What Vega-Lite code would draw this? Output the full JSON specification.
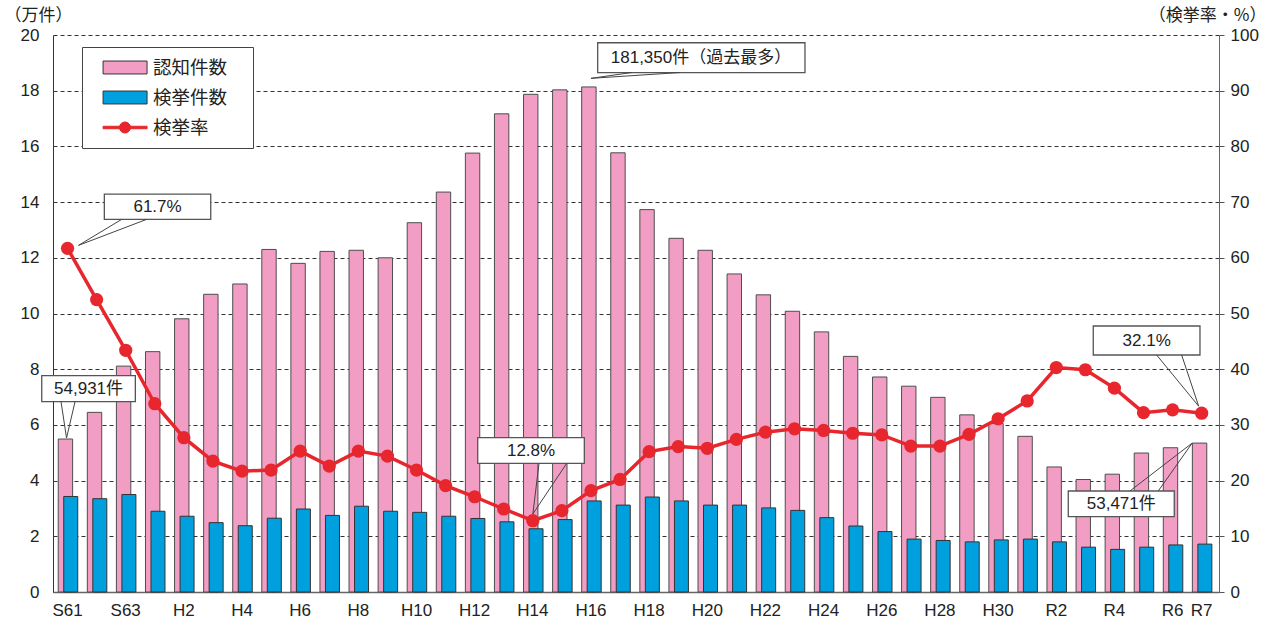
{
  "$schema": "https://vega.github.io/schema/vega-lite/v6.json",
  "width": 1166,
  "height": 557,
  "autosize": "none",
  "padding": {"left": 53, "top": 35, "right": 57, "bottom": 33},
  "background": "white",
  "config": {
    "view": {"stroke": null},
    "font": "Liberation Sans Narrow, Noto Sans Condensed, Liberation Sans, Noto Sans CJK JP"
  },
  "data": {
    "values": [
      {"年": "S61", "認知件数": 5.4931, "検挙件数": 3.43, "検挙率": 61.7},
      {"年": "S62", "認知件数": 6.45, "検挙件数": 3.35, "検挙率": 52.5},
      {"年": "S63", "認知件数": 8.11, "検挙件数": 3.50, "検挙率": 43.4},
      {"年": "H1", "認知件数": 8.63, "検挙件数": 2.90, "検挙率": 33.8},
      {"年": "H2", "認知件数": 9.81, "検挙件数": 2.72, "検挙率": 27.7},
      {"年": "H3", "認知件数": 10.69, "検挙件数": 2.49, "検挙率": 23.5},
      {"年": "H4", "認知件数": 11.06, "検挙件数": 2.38, "検挙率": 21.7},
      {"年": "H5", "認知件数": 12.30, "検挙件数": 2.65, "検挙率": 21.9},
      {"年": "H6", "認知件数": 11.80, "検挙件数": 2.98, "検挙率": 25.3},
      {"年": "H7", "認知件数": 12.23, "検挙件数": 2.75, "検挙率": 22.6},
      {"年": "H8", "認知件数": 12.27, "検挙件数": 3.08, "検挙率": 25.3},
      {"年": "H9", "認知件数": 12.00, "検挙件数": 2.90, "検挙率": 24.4},
      {"年": "H10", "認知件数": 13.26, "検挙件数": 2.86, "検挙率": 21.9},
      {"年": "H11", "認知件数": 14.36, "検挙件数": 2.72, "検挙率": 19.1},
      {"年": "H12", "認知件数": 15.76, "検挙件数": 2.64, "検挙率": 17.1},
      {"年": "H13", "認知件数": 17.17, "検挙件数": 2.52, "検挙率": 14.9},
      {"年": "H14", "認知件数": 17.87, "検挙件数": 2.27, "検挙率": 12.8},
      {"年": "H15", "認知件数": 18.03, "検挙件数": 2.60, "検挙率": 14.6},
      {"年": "H16", "認知件数": 18.135, "検挙件数": 3.27, "検挙率": 18.2},
      {"年": "H17", "認知件数": 15.77, "検挙件数": 3.12, "検挙率": 20.2},
      {"年": "H18", "認知件数": 13.73, "検挙件数": 3.41, "検挙率": 25.2},
      {"年": "H19", "認知件数": 12.70, "検挙件数": 3.27, "検挙率": 26.1},
      {"年": "H20", "認知件数": 12.27, "検挙件数": 3.12, "検挙率": 25.8},
      {"年": "H21", "認知件数": 11.42, "検挙件数": 3.12, "検挙率": 27.4},
      {"年": "H22", "認知件数": 10.67, "検挙件数": 3.02, "検挙率": 28.7},
      {"年": "H23", "認知件数": 10.08, "検挙件数": 2.93, "検挙率": 29.3},
      {"年": "H24", "認知件数": 9.34, "検挙件数": 2.67, "検挙率": 29.0},
      {"年": "H25", "認知件数": 8.46, "検挙件数": 2.37, "検挙率": 28.5},
      {"年": "H26", "認知件数": 7.72, "検挙件数": 2.17, "検挙率": 28.2},
      {"年": "H27", "認知件数": 7.39, "検挙件数": 1.90, "検挙率": 26.2},
      {"年": "H28", "認知件数": 6.99, "検挙件数": 1.85, "検挙率": 26.2},
      {"年": "H29", "認知件数": 6.36, "検挙件数": 1.80, "検挙率": 28.3},
      {"年": "H30", "認知件数": 6.05, "検挙件数": 1.87, "検挙率": 31.1},
      {"年": "R1", "認知件数": 5.59, "検挙件数": 1.90, "検挙率": 34.3},
      {"年": "R2", "認知件数": 4.49, "検挙件数": 1.80, "検挙率": 40.3},
      {"年": "R3", "認知件数": 4.04, "検挙件数": 1.61, "検挙率": 39.9},
      {"年": "R4", "認知件数": 4.23, "検挙件数": 1.53, "検挙率": 36.6},
      {"年": "R5", "認知件数": 4.99, "検挙件数": 1.61, "検挙率": 32.2},
      {"年": "R6", "認知件数": 5.18, "検挙件数": 1.69, "検挙率": 32.7},
      {"年": "R7", "認知件数": 5.3471, "検挙件数": 1.72, "検挙率": 32.1}
    ]
  },
  "layer": [
    {
      "layer": [
        {
          "mark": {"type": "bar", "width": 14.4, "xOffset": -2.1, "stroke": "#4d4d4d", "strokeWidth": 1, "fill": "#F29EC4"},
          "encoding": {
            "x": {
              "field": "年", "type": "ordinal", "sort": null,
              "scale": {
                "domain": ["S61","S62","S63","H1","H2","H3","H4","H5","H6","H7","H8","H9","H10","H11","H12","H13","H14","H15","H16","H17","H18","H19","H20","H21","H22","H23","H24","H25","H26","H27","H28","H29","H30","R1","R2","R3","R4","R5","R6","R7"],
                "paddingInner": 0, "paddingOuter": 0.048, "align": 0
              },
              "axis": {
                "title": null, "grid": false, "ticks": false, "labelAngle": 0,
                "labelExpr": "indexof(['S61','S63','H2','H4','H6','H8','H10','H12','H14','H16','H18','H20','H22','H24','H26','H28','H30','R2','R4','R6','R7'], datum.value) >= 0 ? datum.value : ''",
                "domainColor": "#666", "domainWidth": 1.5,
                "labelPadding": 10, "labelFontSize": 17, "labelColor": "#222",
                "labelFont": "Liberation Sans Narrow, Noto Sans Condensed, Liberation Sans"
              }
            },
            "y": {
              "field": "認知件数", "type": "quantitative",
              "scale": {"domain": [0, 20], "nice": false, "zero": true},
              "axis": {
                "values": [0,2,4,6,8,10,12,14,16,18,20],
                "grid": true, "gridDash": [4, 3], "gridColor": "#333", "gridWidth": 1,
                "domainColor": "#333", "ticks": false, "labelPadding": 14,
                "labelFontSize": 17, "labelColor": "#222",
                "labelFont": "Liberation Sans Narrow, Noto Sans Condensed, Liberation Sans",
                "title": "（万件）", "titleAngle": 0, "titleAlign": "left", "titleBaseline": "middle",
                "titleX": -49, "titleY": -20, "titleFont": "Noto Sans CJK JP", "titleFontSize": 17,
                "titleFontWeight": "normal", "titleColor": "#222"
              }
            }
          }
        },
        {
          "mark": {"type": "bar", "width": 14, "xOffset": 3.2, "stroke": "#333", "strokeWidth": 1, "fill": "#00A0DF"},
          "encoding": {
            "x": {"field": "年", "type": "ordinal", "sort": null},
            "y": {"field": "検挙件数", "type": "quantitative"}
          }
        },
        {
          "mark": {"type": "point", "filled": true, "opacity": 0},
          "encoding": {
            "x": {"field": "年", "type": "ordinal", "sort": null},
            "y": {"field": "認知件数", "type": "quantitative"},
            "color": {
              "datum": "認知件数",
              "scale": {"domain": ["認知件数", "検挙件数", "検挙率"], "range": ["#F29EC4", "#00A0DF", "#E8262D"]},
              "legend": {
                "title": "\u3000", "titleOrient": "right", "titlePadding": 15, "titleFontSize": 4,
                "orient": "none", "legendX": 29, "legendY": 12,
                "padding": 10.5, "rowPadding": 10, "symbolSize": 361, "symbolOpacity": 1, "symbolStrokeWidth": 1,
                "labelOffset": 40.5, "labelFont": "Noto Sans CJK JP", "labelFontSize": 18.5, "labelColor": "#222",
                "strokeColor": "#444", "fillColor": "white"
              }
            },
            "shape": {
              "datum": "認知件数",
              "scale": {"domain": ["認知件数", "検挙件数", "検挙率"], "range": [
                "M0.06,-0.68L4.69,-0.68L4.69,0.68L0.06,0.68Z",
                "M0.06,-0.68L4.69,-0.68L4.69,0.68L0.06,0.68Z",
                "M0.06,-0.13L4.69,-0.13L4.69,0.13L0.06,0.13ZM1.79,0a0.58,0.58 0 1,1 1.16,0a0.58,0.58 0 1,1 -1.16,0Z"
              ]}
            },
            "stroke": {
              "datum": "認知件数",
              "scale": {"domain": ["認知件数", "検挙件数", "検挙率"], "range": ["#333333", "#333333", "#E8262D"]}
            }
          }
        },
        {
          "data": {"values": [{"年": "S61", "認知件数": 5.4931, "label": "54,931件"}]},
          "encoding": {
            "x": {"field": "年", "type": "ordinal"},
            "y": {"field": "認知件数", "type": "quantitative"}
          },
          "layer": [
            {"mark": {"type": "point", "shape": "M-25.8,-63.3H67.8V-37.3H-25.8Z", "size": 4, "filled": true, "fill": "white", "stroke": "#555", "strokeWidth": 1.3, "opacity": 1}},
            {"mark": {"type": "point", "shape": "M-6.5,-37.3L-1,-1L7.5,-37.3", "size": 4, "filled": false, "stroke": "#444", "strokeWidth": 1, "opacity": 1}},
            {"mark": {"type": "text", "dx": 21, "dy": -50.3, "align": "center", "baseline": "middle", "fontSize": 17, "color": "#222", "font": "Liberation Sans Narrow, Noto Sans Condensed, Liberation Sans, Noto Sans CJK JP"}, "encoding": {"text": {"field": "label"}}}
          ]
        },
        {
          "data": {"values": [{"年": "H16", "認知件数": 18.135, "label": "181,350件（過去最多）"}]},
          "encoding": {
            "x": {"field": "年", "type": "ordinal"},
            "y": {"field": "認知件数", "type": "quantitative"}
          },
          "layer": [
            {"mark": {"type": "point", "shape": "M6.7,-44.2H214V-14.4H6.7Z", "size": 4, "filled": true, "fill": "white", "stroke": "#555", "strokeWidth": 1.3, "opacity": 1}},
            {"mark": {"type": "point", "shape": "M40.7,-14.4L0,-8.6L89,-14.4", "size": 4, "filled": false, "stroke": "#444", "strokeWidth": 1, "opacity": 1}},
            {"mark": {"type": "text", "dx": 110, "dy": -29.3, "align": "center", "baseline": "middle", "fontSize": 17, "color": "#222", "font": "Liberation Sans Narrow, Noto Sans Condensed, Liberation Sans, Noto Sans CJK JP"}, "encoding": {"text": {"field": "label"}}}
          ]
        },
        {
          "data": {"values": [{"年": "R7", "認知件数": 5.3471, "label": "53,471件"}]},
          "encoding": {
            "x": {"field": "年", "type": "ordinal"},
            "y": {"field": "認知件数", "type": "quantitative"}
          },
          "layer": [
            {"mark": {"type": "point", "shape": "M-133.4,47.9H-27.4V73.6H-133.4Z", "size": 4, "filled": true, "fill": "white", "stroke": "#555", "strokeWidth": 1.3, "opacity": 1}},
            {"mark": {"type": "point", "shape": "M-71.7,47.9L-9.5,0L-43.4,47.9", "size": 4, "filled": false, "stroke": "#444", "strokeWidth": 1, "opacity": 1}},
            {"mark": {"type": "text", "dx": -80.4, "dy": 60.7, "align": "center", "baseline": "middle", "fontSize": 17, "color": "#222", "font": "Liberation Sans Narrow, Noto Sans Condensed, Liberation Sans, Noto Sans CJK JP"}, "encoding": {"text": {"field": "label"}}}
          ]
        }
      ]
    },
    {
      "layer": [
        {
          "mark": {"type": "line", "color": "#E8262D", "strokeWidth": 3.5},
          "encoding": {
            "x": {"field": "年", "type": "ordinal", "sort": null},
            "y": {
              "field": "検挙率", "type": "quantitative",
              "scale": {"domain": [0, 100], "nice": false, "zero": true},
              "axis": {
                "orient": "right", "values": [0,10,20,30,40,50,60,70,80,90,100],
                "grid": false, "ticks": true, "tickSize": 5, "tickColor": "#555",
                "domainColor": "#666", "labelPadding": 6,
                "labelFontSize": 17, "labelColor": "#222",
                "labelFont": "Liberation Sans Narrow, Noto Sans Condensed, Liberation Sans",
                "title": "（検挙率・%）", "titleAngle": 0, "titleAlign": "right", "titleBaseline": "middle",
                "titleX": 47, "titleY": -20, "titleFont": "Noto Sans CJK JP", "titleFontSize": 17,
                "titleFontWeight": "normal", "titleColor": "#222"
              }
            }
          }
        },
        {
          "mark": {"type": "point", "shape": "circle", "filled": true, "size": 175, "color": "#E8262D", "opacity": 1},
          "encoding": {
            "x": {"field": "年", "type": "ordinal", "sort": null},
            "y": {"field": "検挙率", "type": "quantitative"}
          }
        },
        {
          "data": {"values": [{"年": "S61", "検挙率": 61.7, "label": "61.7%"}]},
          "encoding": {
            "x": {"field": "年", "type": "ordinal"},
            "y": {"field": "検挙率", "type": "quantitative"}
          },
          "layer": [
            {"mark": {"type": "point", "shape": "M36.8,-54.3H143.2V-29H36.8Z", "size": 4, "filled": true, "fill": "white", "stroke": "#555", "strokeWidth": 1.3, "opacity": 1}},
            {"mark": {"type": "point", "shape": "M54.2,-29L11,-3L79.2,-29", "size": 4, "filled": false, "stroke": "#444", "strokeWidth": 1, "opacity": 1}},
            {"mark": {"type": "text", "dx": 90, "dy": -41.6, "align": "center", "baseline": "middle", "fontSize": 17, "color": "#222", "font": "Liberation Sans Narrow, Noto Sans Condensed, Liberation Sans, Noto Sans CJK JP"}, "encoding": {"text": {"field": "label"}}}
          ]
        },
        {
          "data": {"values": [{"年": "H14", "検挙率": 12.8, "label": "12.8%"}]},
          "encoding": {
            "x": {"field": "年", "type": "ordinal"},
            "y": {"field": "検挙率", "type": "quantitative"}
          },
          "layer": [
            {"mark": {"type": "point", "shape": "M-55.1,-83H51.5V-57.4H-55.1Z", "size": 4, "filled": true, "fill": "white", "stroke": "#555", "strokeWidth": 1.3, "opacity": 1}},
            {"mark": {"type": "point", "shape": "M6.2,-57.4L0,-6.7L33.9,-57.4", "size": 4, "filled": false, "stroke": "#444", "strokeWidth": 1, "opacity": 1}},
            {"mark": {"type": "text", "dx": -1.8, "dy": -70.2, "align": "center", "baseline": "middle", "fontSize": 17, "color": "#222", "font": "Liberation Sans Narrow, Noto Sans Condensed, Liberation Sans, Noto Sans CJK JP"}, "encoding": {"text": {"field": "label"}}}
          ]
        },
        {
          "data": {"values": [{"年": "R7", "検挙率": 32.1, "label": "32.1%"}]},
          "encoding": {
            "x": {"field": "年", "type": "ordinal"},
            "y": {"field": "検挙率", "type": "quantitative"}
          },
          "layer": [
            {"mark": {"type": "point", "shape": "M-108.4,-87.2H-1.7V-58.2H-108.4Z", "size": 4, "filled": true, "fill": "white", "stroke": "#555", "strokeWidth": 1.3, "opacity": 1}},
            {"mark": {"type": "point", "shape": "M-45,-58.2L-3,-7L-20,-58.2", "size": 4, "filled": false, "stroke": "#444", "strokeWidth": 1, "opacity": 1}},
            {"mark": {"type": "text", "dx": -55, "dy": -72.7, "align": "center", "baseline": "middle", "fontSize": 17, "color": "#222", "font": "Liberation Sans Narrow, Noto Sans Condensed, Liberation Sans, Noto Sans CJK JP"}, "encoding": {"text": {"field": "label"}}}
          ]
        }
      ]
    }
  ],
  "resolve": {"scale": {"y": "independent"}, "axis": {"y": "independent"}}
}
